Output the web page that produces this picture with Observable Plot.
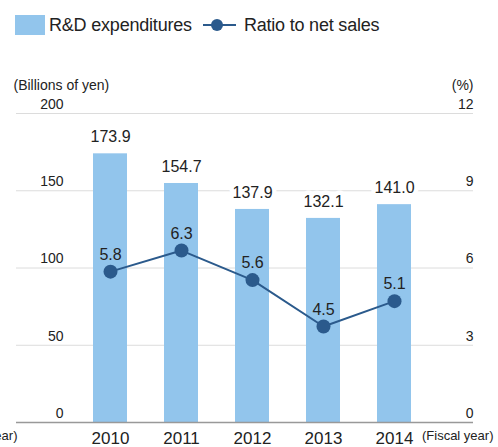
<!DOCTYPE html>
<html>
<head>
<meta charset="utf-8">
<script src="https://cdn.jsdelivr.net/npm/d3@7"></script>
<script src="https://cdn.jsdelivr.net/npm/@observablehq/plot@0.6"></script>
<style>
  body { margin: 0; background: #fff; font-family: "Liberation Sans", Arial, sans-serif; }
  #wrap { position: relative; width: 498px; height: 447px; overflow: hidden; }
  #legend { position: absolute; left: 15px; top: 15px; height: 20px; display: flex; align-items: center; font-size: 18px; color: #222; letter-spacing: -0.2px; }
  .sw { width: 30px; height: 20px; background: #92c5ec; margin-right: 4px; }
  .ln { position: relative; width: 33px; height: 20px; margin-left: 11px; margin-right: 8px; }
  .ln::before { content: ""; position: absolute; left: 0; right: 0; top: 9px; height: 2px; background: #2b5a8c; }
  .ln::after { content: ""; position: absolute; left: 8px; top: 4px; width: 12px; height: 12px; border-radius: 50%; background: #2b5a8c; }
  #chart { position: absolute; left: 0; top: 0; }
</style>
</head>
<body>
<div id="wrap">
  <div id="chart"></div>
  <div id="legend"><span class="sw"></span><span>R&amp;D expenditures</span><span class="ln"></span><span>Ratio to net sales</span></div>
</div>
<script>
const years = ["2010", "2011", "2012", "2013", "2014"];
const rdExpenditures = [173.9, 154.7, 137.9, 132.1, 141.0];
const ratioToSales = [5.8, 6.3, 5.6, 4.5, 5.1];
const leftTicks = [0, 50, 100, 150, 200];
const rightTickLabels = ["0", "3", "6", "9", "12"];

const barColor = "#92c5ec";
const lineColor = "#2b5a8c";

// The ratio line is drawn on its own (exaggerated) secondary scale, as in the original artwork
const ratioToBar = d3.scaleLinear().domain([4, 7]).range([48.5, 130.4]);

const data = years.map((y, i) => ({
  year: y,
  rd: rdExpenditures[i],
  ratio: ratioToSales[i],
  ratioY: ratioToBar(ratioToSales[i])
}));
const rightTicks = leftTicks.map((t, i) => ({t, label: rightTickLabels[i]}));

const font = "'Liberation Sans', Arial, sans-serif";

const chart = Plot.plot({
  width: 498,
  height: 447,
  marginTop: 113,
  marginBottom: 25,
  marginLeft: 16,
  marginRight: 25,
  style: {fontFamily: font, color: "#222", background: "transparent"},
  x: {domain: years, range: [54.6, 449], padding: 0.524, label: null},
  y: {domain: [0, 200], label: null},
  marks: [
    Plot.ruleY(leftTicks.slice(1), {stroke: "#dcdcdc", strokeWidth: 1}),
    Plot.barY(data, {x: "year", y: "rd", fill: barColor}),
    Plot.ruleY([0], {stroke: "#999", strokeWidth: 1.5}),
    Plot.text(data, {x: "year", y: "rd", text: d => d.rd.toFixed(1), dy: -17, fontSize: 16, fill: "#222", stroke: "white", strokeWidth: 9, paintOrder: "stroke"}),
    Plot.line(data, {x: "year", y: "ratioY", stroke: lineColor, strokeWidth: 2}),
    Plot.dot(data, {x: "year", y: "ratioY", r: 7, fill: lineColor, stroke: null}),
    Plot.text(data, {x: "year", y: "ratioY", text: d => d.ratio.toFixed(1), dy: -17, fontSize: 16, fill: "#222"}),
    Plot.axisY(leftTicks, {anchor: "left", tickSize: 0, tickPadding: -47, dy: -9, fontSize: 14, label: null}),
    Plot.text(rightTicks, {y: "t", text: "label", frameAnchor: "right", textAnchor: "end", dy: -9, fontSize: 14, fill: "#222"}),
    Plot.axisX({anchor: "bottom", tickSize: 0, tickPadding: 9, fontSize: 17, label: null}),
    Plot.text(["(Billions of yen)"], {frameAnchor: "top-left", textAnchor: "start", dx: -3, dy: -33, fontSize: 14, fill: "#222", letterSpacing: -0.6}),
    Plot.text(["(%)"], {frameAnchor: "top-right", textAnchor: "end", dy: -33, fontSize: 14, fill: "#222"}),
    Plot.text(["(Fiscal year)"], {frameAnchor: "bottom-right", textAnchor: "end", dx: 20, dy: 17, fontSize: 13, fill: "#222", letterSpacing: -0.6}),
    Plot.text(["(Fiscal year)"], {frameAnchor: "bottom-left", textAnchor: "end", dx: 1, dy: 17, fontSize: 13, fill: "#222", letterSpacing: -0.6})
  ]
});
document.getElementById("chart").appendChild(chart);
</script>
</body>
</html>
